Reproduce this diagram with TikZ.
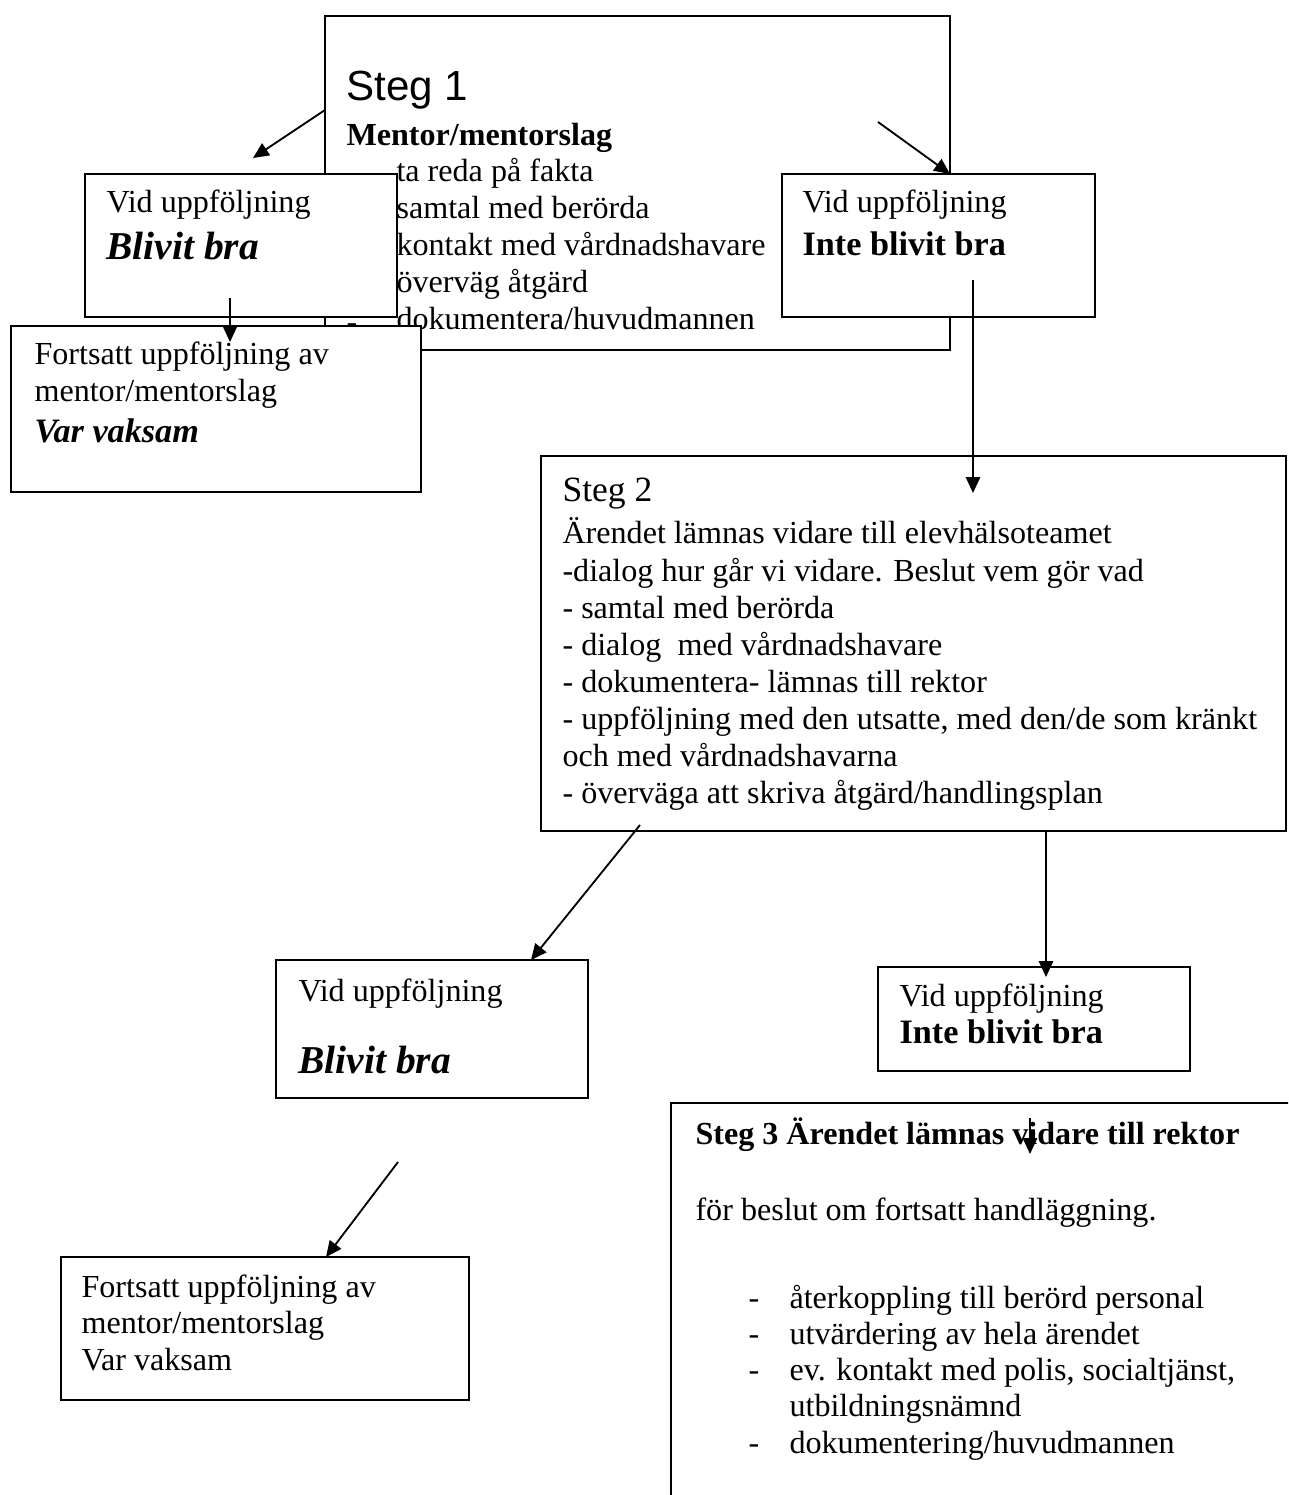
\documentclass[tikz,border=0pt]{standalone}
\usepackage{fontspec}
\setmainfont{Liberation Serif}
\newfontfamily\arialf{Liberation Sans}
\usetikzlibrary{arrows.meta,fit}
\begin{document}
\begin{tikzpicture}[x=0.38pt,y=-0.38pt,
 box/.style={draw, line width=0.8pt, fill=white, inner sep=0pt},
 txt/.style={anchor=base west, inner sep=0pt, font=\fontsize{12.2}{14}\selectfont},
 bi/.style={anchor=base west, inner sep=0pt, font=\fontsize{15}{18}\selectfont\bfseries\itshape},
 bd/.style={anchor=base west, inner sep=0pt, font=\fontsize{13}{16}\selectfont\bfseries},
 conn/.style={line width=0.7pt, -{Triangle[length=6pt,width=5.4pt]}}]
\clip (0,0) rectangle (1288,1495);
\fill[white] (0,0) rectangle (1288,1495);
% Steg 1
\node[box, fit={(325,16) (950,350)}] (s1) {};
\node[anchor=base west, inner sep=0pt, font=\arialf\fontsize{16}{19}\selectfont] (s1h) at (346,101) {Steg 1};
\node[txt, font=\fontsize{12.2}{14}\selectfont\bfseries] (s1m) at (346,146) {Mentor/mentorslag};
\foreach \t [count=\i] in {ta reda på fakta, samtal med berörda, kontakt med vårdnadshavare, överväg åtgärd, dokumentera/huvudmannen} {
  \node[txt, name=s1t\i] at (396,{182+37*(\i-1)}) {\t};
}
\node[txt] (s1d5) at (346,333) {-};
% left box
\node[box, fit={(85,174) (397,317)}] (lb) {};
\node[txt] (lb1) at (106,213) {Vid uppföljning};
\node[bi] (lb2) at (106,260) {Blivit bra};
% Fortsatt 1
\node[box, fit={(11,326) (421,492)}] (f1) {};
\node[txt] (f1a) at (34,365) {Fortsatt uppföljning av};
\node[txt] (f1b) at (34,402) {mentor/mentorslag};
\node[bd] (f1c) at (34,443) {\itshape Var vaksam};
% right box
\node[box, fit={(782,174) (1095,317)}] (rb) {};
\node[txt] (rb1) at (802,213) {Vid uppföljning};
\node[bd] (rb2) at (802,256) {Inte blivit bra};
% Steg 2
\node[box, fit={(541,456) (1286,831)}] (s2) {};
\node[anchor=base west, inner sep=0pt, font=\fontsize{13.5}{16}\selectfont] (s2h) at (562,502) {Steg 2};
\foreach \t [count=\i] in {Ärendet lämnas vidare till elevhälsoteamet, -dialog hur går vi vidare. Beslut vem gör vad, - samtal med berörda, - dialog\ \ med vårdnadshavare, - dokumentera- lämnas till rektor, {- uppföljning med den utsatte, med den/de som kränkt}, och med vårdnadshavarna, - överväga att skriva åtgärd/handlingsplan} {
  \node[txt, name=s2l\i] at (562,{544+37.1*(\i-1)}) {\t};
}
% Blivit bra 2
\node[box, fit={(276,960) (588,1098)}] (lb2box) {};
\node[txt] (b2a) at (298,1001) {Vid uppföljning};
\node[bi] (b2b) at (298,1073) {Blivit bra};
% Inte blivit bra 2
\node[box, fit={(878,967) (1190,1071)}] (rb2box) {};
\node[txt] (i2a) at (899,1006) {Vid uppföljning};
\node[bd] (i2b) at (899,1043) {Inte blivit bra};
% Steg 3
\node[box, fit={(671,1103) (1320,1530)}] (s3) {};
\node[txt, font=\fontsize{12.2}{14}\selectfont\bfseries] (s3h) at (695,1144) {Steg 3 Ärendet lämnas vidare till rektor};
\node[txt] (s3b) at (695,1220) {för beslut om fortsatt handläggning.};
\node[txt] (s3d1) at (748,1308) {-};
\node[txt] (s3t1) at (789,1308) {återkoppling till berörd personal};
\node[txt] (s3d2) at (748,1344) {-};
\node[txt] (s3t2) at (789,1344) {utvärdering av hela ärendet};
\node[txt] (s3d3) at (748,1380) {-};
\node[txt] (s3t3) at (789,1380) {ev. kontakt med polis, socialtjänst,};
\node[txt] (s3t4) at (789,1416) {utbildningsnämnd};
\node[txt] (s3d5) at (748,1453) {-};
\node[txt] (s3t5) at (789,1453) {dokumentering/huvudmannen};
% Fortsatt 2
\node[box, fit={(61,1257) (469,1400)}] (f2) {};
\node[txt] (f2a) at (81,1297) {Fortsatt uppföljning av};
\node[txt] (f2b) at (81,1333) {mentor/mentorslag};
\node[txt] (f2c) at (81,1370) {Var vaksam};
% arrow end points
\coordinate (a1s) at (325,110); \coordinate (a1e) at (253,158);
\coordinate (a2s) at (878,122); \coordinate (a2e) at (950,174);
\coordinate (a3s) at (230,298); \coordinate (a3e) at (230,342);
\coordinate (a4s) at (973,280); \coordinate (a4e) at (973,493);
\coordinate (a5s) at (640,825); \coordinate (a5e) at (531,960);
\coordinate (a6s) at (1046,832); \coordinate (a6e) at (1046,977);
\coordinate (a7s) at (1030,1118); \coordinate (a7e) at (1030,1154);
\coordinate (a8s) at (398,1162); \coordinate (a8e) at (326,1257);
\foreach \k in {1,...,8} { \draw[conn] (a\k s) -- (a\k e); }
\end{tikzpicture}
\end{document}
